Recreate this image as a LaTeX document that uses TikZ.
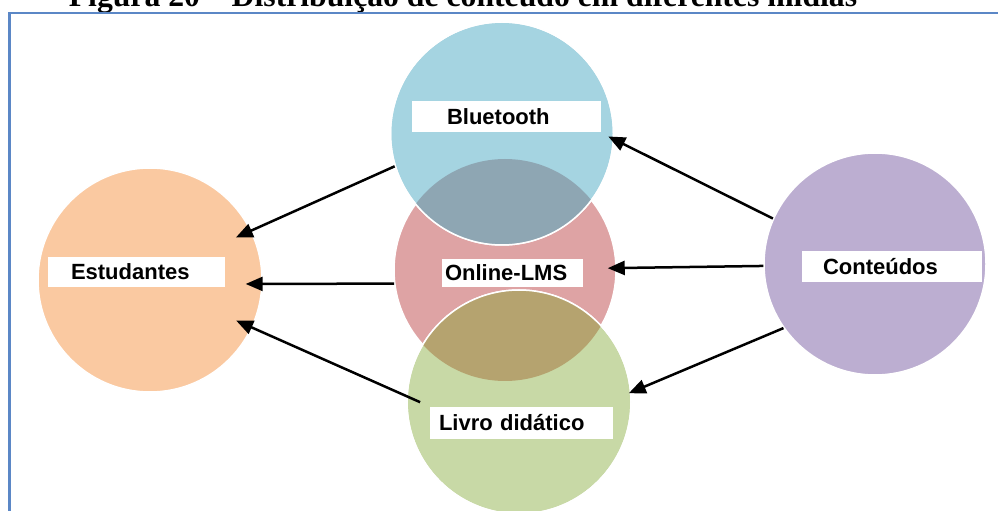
\documentclass[tikz,border=0pt]{standalone}
\usepackage{fontspec}
\setmainfont{Liberation Serif}
\newfontfamily\arialfont{Liberation Sans}
\usepackage{tikz}
\usetikzlibrary{arrows.meta,shapes,positioning}

\definecolor{framecol}{HTML}{5B87C6}
\definecolor{studcol}{HTML}{FAC9A1}
\definecolor{btcol}{HTML}{A5D4E1}
\definecolor{lmscol}{HTML}{DEA3A4}
\definecolor{livrocol}{HTML}{C8D9A6}
\definecolor{contcol}{HTML}{BCAED1}
\definecolor{btlmscol}{HTML}{8EA6B3}
\definecolor{lmslivrocol}{HTML}{B5A36F}

\begin{document}
\begin{tikzpicture}[x=1pt,y=1pt,
    bubble/.style={circle,draw=white,line width=1.5pt,inner sep=0pt},
    lbl/.style={fill=white,inner ysep=0pt,align=left,
        font=\arialfont\bfseries\fontsize{22}{24}\selectfont},
    arr/.style={-{Triangle[length=17pt,width=14pt]},line width=2.5pt,black}]
    \path[use as bounding box,clip] (0,0) rectangle (998,511);
    % title and frame
    \node[anchor=base,font=\bfseries\fontsize{31.7}{38}\selectfont] (ttl) at (463,504)
        {Figura 20 -- Distribuição de conteúdo em diferentes mídias};
    \draw[framecol,line width=2.5pt] (9.5,-5) -- (9.5,498) -- (1005,498);
    % the three media
    \node[bubble,fill=lmscol,minimum size=222pt] (lms) at (505,241) {};
    \node[bubble,fill=btcol,minimum size=223pt] (bt) at (502,377.5) {};
    \node[bubble,fill=livrocol,minimum size=224pt] (livro) at (519,109) {};
    \begin{scope}
        \clip (505,241) circle (111pt);
        \fill[btlmscol] (502,377.5) circle (111.5pt);
        \fill[lmslivrocol] (519,109) circle (112pt);
    \end{scope}
    \draw[white,line width=1.5pt] (502,377.5) circle (111.5pt);
    \draw[white,line width=1.5pt] (519,109) circle (112pt);
    % students and contents
    \node[bubble,fill=studcol,minimum size=224pt] (stud) at (150,231) {};
    \node[bubble,fill=contcol,minimum size=222pt] (cont) at (875,247) {};
    % arrows
    \draw[arr,shorten >=-17pt] (bt.197) -- (stud.26);
    \draw[arr,shorten >=-17pt] (lms.187) -- (stud.-2);
    \draw[arr,shorten <=-15pt,shorten >=-17.6pt] (livro.177) -- (stud.-25);
    \draw[arr,shorten >=-6.5pt] (cont.156) -- (bt.-3.5);
    \draw[arr,shorten >=-9pt] (cont.181.5) -- (lms.1.5);
    \draw[arr,shorten >=-2.75pt] (cont.215) -- (livro.5);
    % labels
    \node[lbl,text width=119pt,inner xsep=35pt,minimum height=31pt] (btl) at (506.5,394.5) {Bluetooth};
    \node[lbl,text width=135pt,inner xsep=3pt,minimum height=28pt] (lmsl) at (512.5,238) {Online-LMS};
    \node[lbl,text width=165pt,inner xsep=9pt,minimum height=32pt] (livrol) at (521.5,88) {Livro didático};
    \node[lbl,text width=131pt,inner xsep=23pt,minimum height=30pt] (studl) at (136.5,239) {Estudantes};
    \node[lbl,text width=138pt,inner xsep=21pt,minimum height=31pt] (contl) at (892,244.5) {Conteúdos};
\end{tikzpicture}
\end{document}
